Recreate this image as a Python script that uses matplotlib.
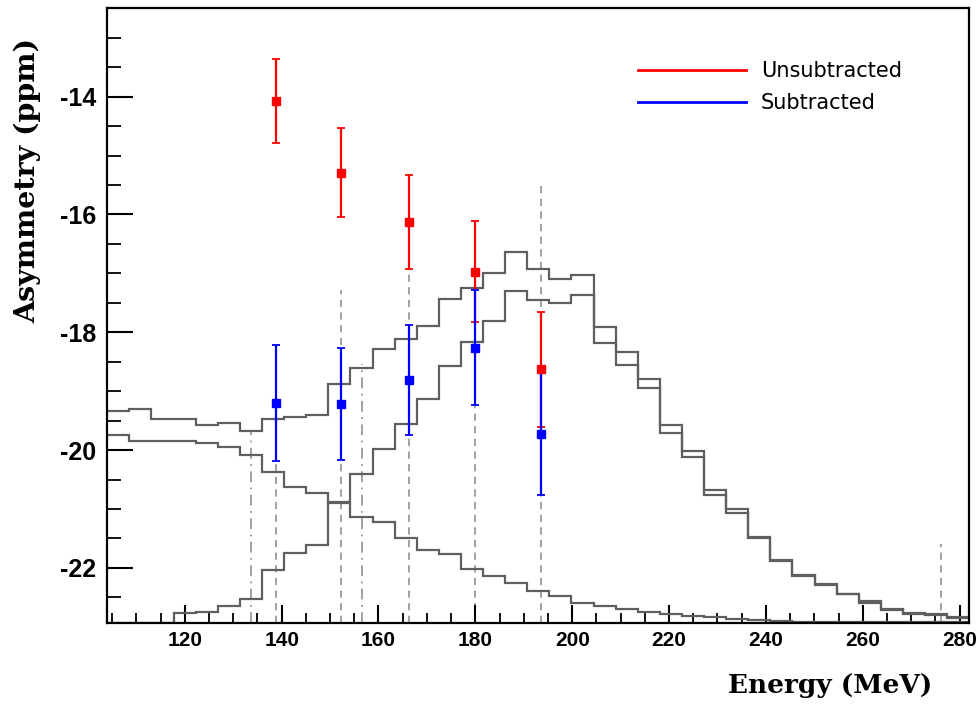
import matplotlib
matplotlib.use("Agg")
import matplotlib.pyplot as plt
from matplotlib.ticker import MultipleLocator
from matplotlib.lines import Line2D
import numpy as np

# histogram binning (39 bins)
bin_lo, bin_hi, n_bins = 104.0, 282.0, 39

# upper rising histogram
hist_a = [-19.33, -19.31, -19.47, -19.47, -19.58, -19.54, -19.67, -19.48, -19.44, -19.40,
          -18.88, -18.61, -18.28, -18.12, -17.89, -17.43, -17.25, -17.00, -16.64, -16.93,
          -17.09, -17.02, -17.91, -18.33, -18.79, -19.58, -20.01, -20.68, -21.00, -21.48,
          -21.87, -22.12, -22.28, -22.44, -22.57, -22.69, -22.76, -22.79, -22.83]
# lower rising histogram
hist_b = [-22.93, -22.93, -22.93, -22.77, -22.74, -22.64, -22.52, -22.04, -21.75, -21.61,
          -20.88, -20.40, -19.98, -19.55, -19.13, -18.58, -18.16, -17.80, -17.30, -17.46,
          -17.51, -17.36, -18.19, -18.55, -18.95, -19.71, -20.12, -20.76, -21.06, -21.49,
          -21.88, -22.14, -22.29, -22.45, -22.59, -22.71, -22.79, -22.80, -22.85]
# falling histogram
hist_c = [-19.74, -19.84, -19.84, -19.84, -19.88, -19.95, -20.08, -20.37, -20.62, -20.73,
          -20.90, -21.14, -21.22, -21.50, -21.69, -21.76, -22.01, -22.13, -22.26, -22.40,
          -22.48, -22.59, -22.64, -22.69, -22.74, -22.78, -22.81, -22.84, -22.86, -22.89,
          -22.90, -22.91, -22.92, -22.92, -22.92, -22.92, -22.92, -22.92, -22.92]

energy = [138.8, 152.3, 166.3, 179.9, 193.6]
unsub = [-14.07, -15.29, -16.13, -16.97, -18.63]
unsub_err = [0.71, 0.75, 0.80, 0.86, 0.98]
sub = [-19.20, -19.21, -18.81, -18.26, -19.72]
sub_err = [0.98, 0.95, 0.94, 0.98, 1.05]

dash_x = [138.8, 152.3, 166.3, 179.9, 193.6, 276.2]
dash_top = [-18.2, -17.29, -16.2, -17.3, -15.50, -21.6]
dashdot_x = [133.7, 156.6]
dashdot_top = [-19.67, -18.53]

y_lo, y_hi = -22.93, -12.5

fig = plt.figure(figsize=(9.78, 7.06), dpi=100)
ax = fig.add_axes([0.1097, 0.118, 0.8814, 0.8702])

edges = np.linspace(bin_lo, bin_hi, n_bins + 1)
for h in (hist_a, hist_b, hist_c):
    ax.stairs(h, edges, baseline=None, color="#5f5f5f", lw=1.6, zorder=2)

ax.vlines(dash_x, y_lo, dash_top, colors="#9a9a9a", linestyles=(0, (4, 3)), lw=1.3, zorder=1)
ax.vlines(dashdot_x, y_lo, dashdot_top, colors="#9a9a9a", linestyles=(0, (6, 3, 1, 3)), lw=1.3, zorder=1)

ax.errorbar(energy, unsub, yerr=unsub_err, fmt="s", color="#ff0000", ms=6,
            elinewidth=1.6, capsize=3, capthick=1.3, zorder=4)
ax.errorbar(energy, sub, yerr=sub_err, fmt="s", color="#0000ff", ms=6,
            elinewidth=1.6, capsize=3, capthick=1.3, zorder=4)

ax.set_xlim(bin_lo, bin_hi)
ax.set_ylim(y_lo, y_hi)
ax.xaxis.set_major_locator(MultipleLocator(20))
ax.xaxis.set_minor_locator(MultipleLocator(5))
ax.yaxis.set_major_locator(MultipleLocator(2))
ax.yaxis.set_minor_locator(MultipleLocator(0.5))
ax.tick_params(axis="x", which="major", direction="in", length=13, width=1.5, pad=6)
ax.tick_params(axis="x", which="minor", direction="in", length=7, width=1.3)
ax.tick_params(axis="y", which="major", direction="in", length=19, width=1.5, pad=8)
ax.tick_params(axis="y", which="minor", direction="in", length=10, width=1.3)
for lab in ax.get_xticklabels():
    lab.set_fontfamily("Liberation Sans")
    lab.set_fontweight("bold")
    lab.set_fontsize(15)
for lab in ax.get_yticklabels():
    lab.set_fontfamily("Liberation Sans")
    lab.set_fontweight("bold")
    lab.set_fontsize(18)
ax.yaxis.set_major_formatter(plt.FuncFormatter(lambda v, p: "%d" % round(v)))
for sp in ax.spines.values():
    sp.set_linewidth(1.6)

fig.text(0.953, 0.018, "Energy (MeV)", family="DejaVu Serif", weight="bold",
         fontsize=19, ha="right", va="baseline")
fig.text(0.028, 0.744, "Asymmetry (ppm)", family="DejaVu Serif", weight="bold",
         fontsize=20.5, rotation=90, ha="center", va="center")

handles = [Line2D([], [], color="#ff0000", lw=2), Line2D([], [], color="#0000ff", lw=2)]
ax.legend(handles, ["Unsubtracted", "Subtracted"], loc="upper left",
          bbox_to_anchor=(0.594, 0.944), frameon=False,
          handlelength=5.2, handletextpad=0.7, labelspacing=0.55,
          prop={"family": "DejaVu Sans", "size": 15})

fig.savefig("out.png", dpi=100)
